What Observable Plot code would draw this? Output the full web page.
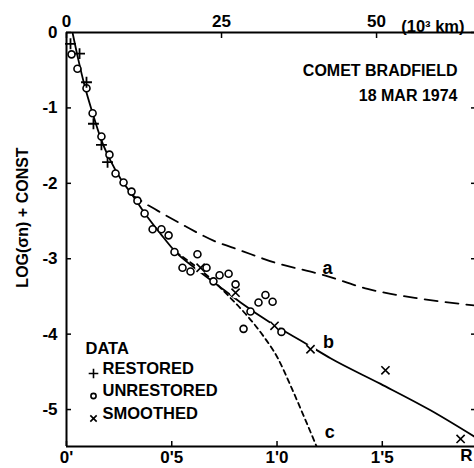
<!DOCTYPE html>
<html><head><meta charset="utf-8">
<script src="https://cdn.jsdelivr.net/npm/d3@7"></script>
<script src="https://cdn.jsdelivr.net/npm/@observablehq/plot@0.6"></script>
<style>
body{margin:0;background:#fff}
#chart svg{font-family:"Liberation Sans",Arial,sans-serif;font-weight:bold}
</style>
</head><body><div id="chart"></div>
<script>
// Restored (+)
const restoredR   = [0.019, 0.062, 0.095, 0.128, 0.166, 0.195];
const restoredLog = [-0.15, -0.28, -0.66, -1.21, -1.49, -1.72];
// Unrestored (o)
const unrestoredR   = [0.024, 0.052, 0.095, 0.124, 0.166, 0.204, 0.233, 0.271, 0.309, 0.337, 0.371, 0.409, 0.451, 0.485, 0.513, 0.551, 0.589, 0.622, 0.665, 0.698, 0.727, 0.770, 0.803, 0.841, 0.874, 0.912, 0.945, 0.979, 1.021];
const unrestoredLog = [-0.29, -0.48, -0.74, -1.07, -1.38, -1.62, -1.87, -1.99, -2.11, -2.23, -2.40, -2.61, -2.61, -2.69, -2.91, -3.12, -3.17, -2.94, -3.12, -3.30, -3.22, -3.20, -3.34, -3.93, -3.70, -3.58, -3.48, -3.57, -3.97];
// Smoothed (x)
const smoothedR   = [0.637, 0.803, 0.988, 1.159, 1.515, 1.872];
const smoothedLog = [-3.12, -3.45, -3.89, -4.20, -4.48, -5.39];
// Curve b (solid)
const curveBR   = [0.0285, 0.057, 0.0855, 0.124, 0.166, 0.209, 0.257, 0.314, 0.375, 0.447, 0.518, 0.613, 0.708, 0.827, 0.969, 1.140, 1.254, 1.492, 1.729, 1.938];
const curveBLog = [0, -0.37, -0.70, -1.07, -1.43, -1.70, -1.94, -2.16, -2.41, -2.67, -2.91, -3.13, -3.33, -3.58, -3.85, -4.13, -4.32, -4.66, -5.01, -5.36];
// Curve a (long dashes)
const curveAR   = [0.304, 0.375, 0.456, 0.565, 0.698, 0.827, 0.988, 1.226, 1.430, 1.682, 1.938];
const curveALog = [-2.14, -2.27, -2.40, -2.57, -2.76, -2.89, -3.05, -3.22, -3.40, -3.53, -3.62];
// Curve c (short dashes)
const curveCR   = [0.518, 0.589, 0.684, 0.779, 0.850, 0.931, 1.002, 1.064, 1.126, 1.188];
const curveCLog = [-2.91, -3.05, -3.26, -3.52, -3.73, -4.01, -4.31, -4.68, -5.08, -5.49];
// Curve labels
const curveLabels   = ["a", "b", "c"];
const curveLabelR   = [1.24, 1.245, 1.25];
const curveLabelLog = [-3.13, -4.11, -5.30];
// Axes
const xDomain = [0, 1.938];
const yDomain = [-5.49, 0];
const xTicks = [0, 0.5, 1, 1.5];
const xTickLabels = ["0'", "0'5", "1'0", "1'5"];
const kmPerArcmin = 33.95; // 10^3 km per arcmin
const kmTicks = [0, 25, 50];
const yTicks = [0, -1, -2, -3, -4, -5];
const legendTitle = "DATA";
const legendLabels = ["RESTORED", "UNRESTORED", "SMOOTHED"];
const legendSymbols = ["plus", "circle", "times"];

const pts = (xs, ys) => xs.map((x, i) => ({x, y: ys[i]}));
const restored = pts(restoredR, restoredLog);
const unrestored = pts(unrestoredR, unrestoredLog);
const smoothed = pts(smoothedR, smoothedLog);
const curveB = pts(curveBR, curveBLog);
const curveA = pts(curveAR, curveALog);
const curveC = pts(curveCR, curveCLog);
const labels = curveLabels.map((t, i) => ({t, x: curveLabelR[i], y: curveLabelLog[i]}));

const symSize = {plus: 3.6, circle: 3.5, times: 3.8};
const legendSymSize = {plus: 3.2, circle: 2.6, times: 3.0};
const legendMarks = legendLabels.flatMap((lab, i) => [
  Plot.dot([lab], {frameAnchor: "bottom-left", dx: 27, dy: -73 + i * 22.5, symbol: legendSymbols[i], r: legendSymSize[legendSymbols[i]], stroke: "black", strokeWidth: 1.6}),
  Plot.text([lab], {frameAnchor: "bottom-left", dx: 36, dy: -73 + i * 22.5, textAnchor: "start", fontSize: 16.5, fontWeight: "bold"})
]);

const chart = Plot.plot({
  width: 474, height: 468,
  marginLeft: 66, marginRight: 0, marginTop: 32, marginBottom: 22,
  x: {domain: xDomain},
  y: {domain: yDomain},
  style: {fontFamily: "'Liberation Sans', Arial, sans-serif", fontWeight: "bold", color: "black"},
  marks: [
    Plot.line(curveA, {x: "x", y: "y", curve: "monotone-x", stroke: "black", strokeWidth: 1.8, strokeDasharray: "13,8", clip: true}),
    Plot.line(curveC, {x: "x", y: "y", curve: "monotone-x", stroke: "black", strokeWidth: 1.8, strokeDasharray: "5,4", clip: true}),
    Plot.line(curveB, {x: "x", y: "y", curve: "monotone-x", stroke: "black", strokeWidth: 1.8, clip: true}),
    Plot.dot(smoothed, {x: "x", y: "y", r: 5.5, fill: "white", stroke: null}),
    Plot.dot(smoothed, {x: "x", y: "y", symbol: "times", r: symSize.times, stroke: "black", strokeWidth: 1.6}),
    Plot.dot(unrestored, {x: "x", y: "y", symbol: "circle", r: symSize.circle, fill: "white", stroke: "black", strokeWidth: 1.6}),
    Plot.dot(restored, {x: "x", y: "y", symbol: "plus", r: symSize.plus, stroke: "black", strokeWidth: 1.8}),
    Plot.text(labels, {x: "x", y: "y", text: "t", fontSize: 18, fontWeight: "bold"}),
    // frame
    Plot.ruleX([xDomain[0]], {strokeWidth: 2}),
    Plot.ruleY([yDomain[1]], {strokeWidth: 2}),
    Plot.ruleY([yDomain[0]], {strokeWidth: 2}),
    // axes
    Plot.axisX(xTicks, {anchor: "bottom", tickSize: -5, tickPadding: 9, strokeWidth: 1.5, fontSize: 17, label: null, tickFormat: d => xTickLabels[xTicks.indexOf(d)]}),
    Plot.axisX(kmTicks.map(k => k / kmPerArcmin), {anchor: "top", tickSize: -5, tickPadding: 11, strokeWidth: 1.5, fontSize: 17, label: null, tickFormat: d => String(Math.round(d * kmPerArcmin))}),
    Plot.axisY(yTicks, {anchor: "left", tickSize: -5, tickPadding: 14, strokeWidth: 1.5, fontSize: 17, label: null, tickFormat: d => d === 0 ? "0" : "-" + (-d)}),
    Plot.axisY(yTicks, {anchor: "right", tickSize: -4, strokeWidth: 1.5, label: null, tickFormat: () => ""}),
    Plot.text(["(10³ km)"], {frameAnchor: "top-right", dx: -10, dy: -12, textAnchor: "end", fontSize: 16.5, fontWeight: "bold"}),
    Plot.text(["R"], {frameAnchor: "bottom-right", dx: -8, dy: 14, textAnchor: "middle", fontSize: 17, fontWeight: "bold"}),
    Plot.text(["LOG(σn) + CONST"], {frameAnchor: "left", dx: -44, dy: -22, rotate: -90, textAnchor: "middle", fontSize: 16, fontWeight: "bold"}),
    Plot.text(["COMET BRADFIELD\n18 MAR 1974"], {frameAnchor: "top-right", dx: -17, dy: 25, textAnchor: "end", lineHeight: 1.6, fontSize: 16, fontWeight: "bold"}),
    Plot.text([legendTitle], {frameAnchor: "bottom-left", dx: 19, dy: -93, textAnchor: "start", fontSize: 16.5, fontWeight: "bold"}),
    ...legendMarks
  ]
});
document.getElementById("chart").append(chart);
</script>
</body></html>
